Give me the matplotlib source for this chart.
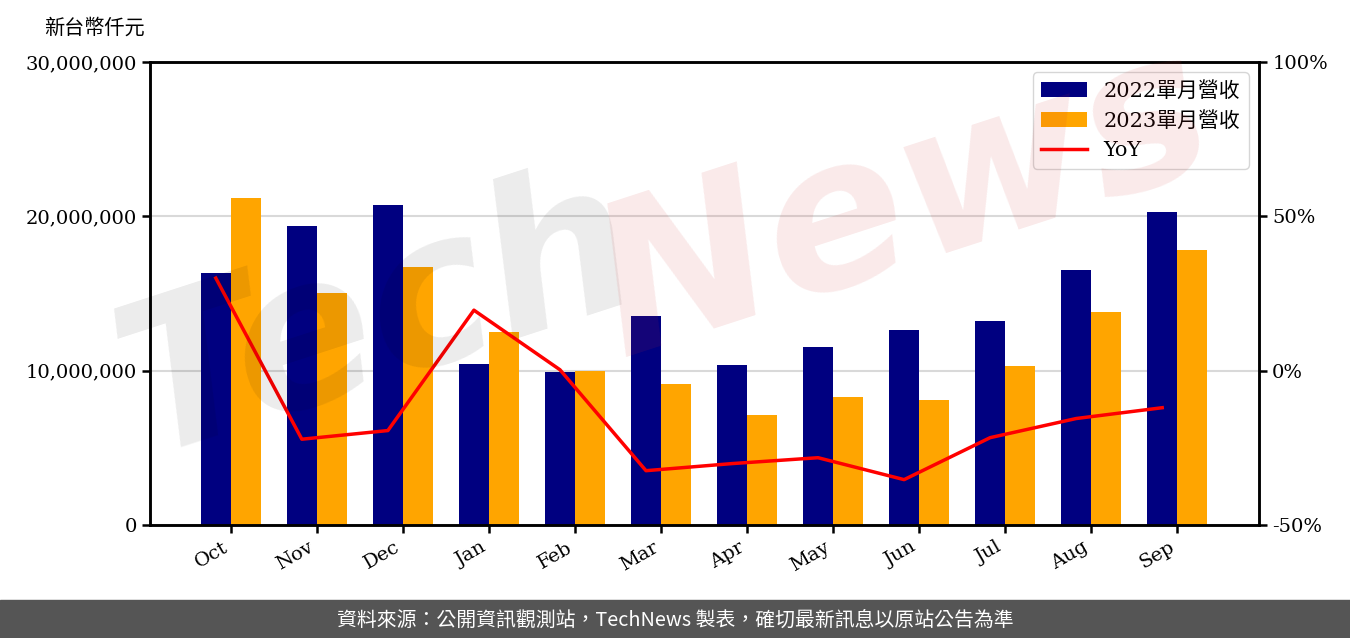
import matplotlib
matplotlib.use('Agg')
import matplotlib.pyplot as plt
import matplotlib.patches as mpatches
import numpy as np
from matplotlib.ticker import FuncFormatter

plt.rcParams['font.family'] = ['DejaVu Serif', 'Noto Sans CJK TC']

months = ['Oct', 'Nov', 'Dec', 'Jan', 'Feb', 'Mar', 'Apr', 'May', 'Jun', 'Jul', 'Aug', 'Sep']
rev_2022 = [16330000, 19370000, 20730000, 10430000, 9910000, 13540000,
            10370000, 11530000, 12630000, 13220000, 16520000, 20280000]
rev_2023 = [21190000, 15030000, 16720000, 12510000, 9950000, 9140000,
            7130000, 8290000, 8100000, 10300000, 13800000, 17820000]
yoy = [30.0, -22.2, -19.4, 19.6, 0.3, -32.4, -30.1, -28.2, -35.3, -21.7, -15.5, -12.0]

fig = plt.figure(figsize=(13.5, 6.38), dpi=100)
ax = fig.add_axes([0.1111, 0.1771, 0.8215, 0.7257])
ax2 = ax.twinx()

x = np.arange(len(months))
w = 0.35
ax.bar(x - w / 2, rev_2022, w, color='#000080', label='2022單月營收', zorder=2)
ax.bar(x + w / 2, rev_2023, w, color='#FFA500', label='2023單月營收', zorder=2)
# YoY line sits on the 2022 bars
ln, = ax2.plot(x - w / 2, yoy, color='#FF0000', linewidth=2.5, label='YoY')

ax.set_ylim(0, 30000000)
ax.set_yticks([0, 10000000, 20000000, 30000000])
ax.yaxis.set_major_formatter(FuncFormatter(lambda v, p: f'{int(v):,}'))
ax.grid(axis='y', color='#d9d9d9', linewidth=1.5, zorder=0)
ax.set_axisbelow(True)
ax.set_xlim(-0.94, 11.95)
ax.set_xticks(x)
ax.set_xticklabels(months, rotation=30, ha='right')

ax2.set_ylim(-50, 100)
ax2.set_yticks([-50, 0, 50, 100])
ax2.yaxis.set_major_formatter(FuncFormatter(lambda v, p: f'{v:.0f}%'))

for a in (ax, ax2):
    a.tick_params(labelsize=14, width=1.8, length=6)
    for s in a.spines.values():
        s.set_linewidth(1.8)

h1, l1 = ax.get_legend_handles_labels()
leg = ax.legend(h1 + [ln], l1 + ['YoY'], loc='upper right', fontsize=15,
                frameon=True, fancybox=True, edgecolor='#cccccc', handlelength=2.2)
leg.set_zorder(10)

fig.text(0.033, 0.956, '新台幣仟元', fontsize=14.5, va='center', family=['Noto Sans CJK TC'])

# watermark
fig.text(0.28, 0.50, 'Tech', fontsize=150, fontweight='bold', style='italic',
         family='DejaVu Sans', color='black', alpha=0.08, rotation=18,
         ha='center', va='center')
fig.text(0.67, 0.68, 'News', fontsize=150, fontweight='bold', style='italic',
         family='DejaVu Sans', color='#d03030', alpha=0.1, rotation=18,
         ha='center', va='center')

# footer
fig.patches.append(mpatches.Rectangle((0, 0), 1, 38 / 638, transform=fig.transFigure,
                                      color='#555555', zorder=0))
fig.text(0.5, 0.028, '資料來源：公開資訊觀測站，TechNews 製表，確切最新訊息以原站公告為準',
         color='white', fontsize=14.3, ha='center', va='center',
         family=['Noto Sans CJK TC'])

fig.savefig('out.png', dpi=100)
